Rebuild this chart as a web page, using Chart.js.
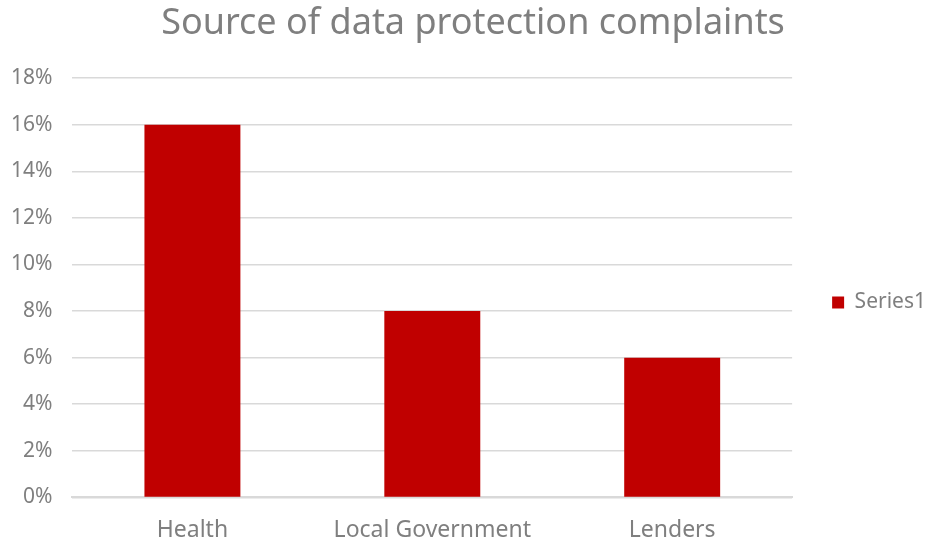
<!DOCTYPE html>
<html>
<head>
<meta charset="utf-8">
<script src="https://cdn.jsdelivr.net/npm/chart.js@4"></script>
<style>
  html, body { margin: 0; padding: 0; background: #fff; }
  #wrap { width: 926px; height: 537px; }
</style>
</head>
<body>
<div id="wrap"><canvas id="chart" width="926" height="537"></canvas></div>
<script>
const categories = ['Health', 'Local Government', 'Lenders'];
const series1 = [0.16, 0.08, 0.06];
const yTicks = [0, 0.02, 0.04, 0.06, 0.08, 0.10, 0.12, 0.14, 0.16, 0.18];

const grey = '#7f7f7f';
const font = "'Noto Sans', 'Open Sans', sans-serif";

// nudge the title so it centres a little right of the canvas middle
const titleShift = {
  id: 'titleShift',
  afterLayout(chart) {
    if (chart.titleBlock) chart.titleBlock.left += 19;
  }
};

new Chart(document.getElementById('chart'), {
  type: 'bar',
  data: {
    labels: categories,
    datasets: [{
      label: 'Series1',
      data: series1,
      backgroundColor: '#c00000',
      barPercentage: 0.4,
      categoryPercentage: 1
    }]
  },
  options: {
    responsive: false,
    animation: false,
    layout: { padding: { left: -9, right: -10, top: 2, bottom: -26 } },
    plugins: {
      title: {
        display: true,
        text: 'Source of data protection complaints',
        color: grey,
        font: { family: font, size: 36, weight: 'normal' },
        padding: { top: 0, bottom: 33 }
      },
      legend: {
        position: 'right',
        // blank legend title just pushes the entry down a little
        title: { display: true, text: ' ', font: { size: 10 }, padding: { top: 28, bottom: 0 } },
        labels: {
          color: grey,
          font: { family: font, size: 21 },
          boxWidth: 12,
          boxHeight: 12,
          padding: 40
        }
      },
      tooltip: { enabled: false }
    },
    scales: {
      x: {
        grid: { display: false, drawTicks: false },
        border: { color: '#d9d9d9', width: 2 },
        ticks: { color: grey, font: { family: font, size: 23 }, padding: 19 }
      },
      y: {
        min: 0,
        max: 0.18,
        afterBuildTicks: axis => { axis.ticks = yTicks.map(v => ({ value: v })); },
        grid: { color: '#d9d9d9', lineWidth: 1.5, drawTicks: false },
        border: { display: false },
        ticks: {
          color: grey,
          font: { family: font, size: 21 },
          padding: 20,
          callback: v => Math.round(v * 100) + '%'
        }
      }
    }
  },
  plugins: [titleShift]
});
</script>
</body>
</html>
